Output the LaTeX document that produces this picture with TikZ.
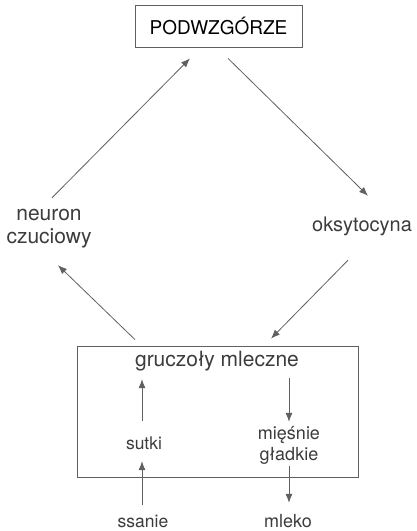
\documentclass[tikz,border=0pt]{standalone}
\usepackage{fontspec}
\setmainfont{TeX Gyre Heros}
\usetikzlibrary{arrows.meta}
\pgfdeclarelayer{bg}
\pgfsetlayers{bg,main}
\definecolor{ink}{HTML}{3C3C3C}
\definecolor{wire}{HTML}{606060}
\tikzset{
  lbl/.style={inner sep=0pt, text=ink, align=center},
  frame/.style={draw=wire, line width=0.8pt, inner sep=0pt},
  arr/.style={draw=wire, line width=0.8pt, -{Latex[length=9pt,width=7pt]}}
}

\begin{document}
\begin{tikzpicture}[x=1pt,y=-1pt]
        \useasboundingbox (0,0) rectangle (417,531);
        \node (pod) [frame, minimum width=167pt, minimum height=42pt, font=\fontsize{19}{22}\selectfont] at (218.5, 26) {PODWZGÓRZE};
        \node (neuron) [lbl, minimum width=70pt, minimum height=50pt, font=\fontsize{21}{23}\selectfont] at (49, 229) {neuron\\czuciowy};
        \node (oks) [lbl, minimum width=100pt, minimum height=24pt, font=\fontsize{20}{24}\selectfont] at (362, 226) {oksytocyna};
        \node (gland) [frame, minimum width=281pt, minimum height=131pt] at (217.5, 411.5) {};
        \node (gruc) [lbl, minimum width=162pt, minimum height=24pt, font=\fontsize{21}{24}\selectfont] at (217, 361) {gruczoły mleczne};
        \node (sutki) [lbl, minimum height=24pt, font=\fontsize{17.5}{20}\selectfont] at (144, 443) {sutki};
        \node (miesnie) [lbl, minimum height=46pt, font=\fontsize{18}{21}\selectfont] at (289, 445) {mięśnie\\gładkie};
        \node (ssanie) [lbl, minimum height=24pt, font=\fontsize{17.5}{20}\selectfont] at (143, 521) {ssanie};
        \node (mleko) [lbl, minimum height=24pt, font=\fontsize{18}{20}\selectfont] at (288, 521) {mleko};
        \begin{pgfonlayer}{bg}
                \draw ([xshift=3pt,yshift=6pt]neuron.north) edge [arr] ([xshift=-28.5pt,yshift=-11pt]pod.south);
                \draw ([xshift=9.5pt,yshift=-11pt]pod.south) edge [arr] ([xshift=6pt,yshift=18pt]oks.north);
                \draw ([xshift=-14pt,yshift=-22pt]oks.south) edge [arr] ([xshift=53.5pt,yshift=7pt]gland.north);
                \draw ([xshift=-82.5pt,yshift=6pt]gland.north) edge [arr] ([xshift=9pt,yshift=-11pt]neuron.south);
                \draw ([xshift=-2pt,yshift=10pt]sutki.north) edge [arr] ([xshift=-75pt,yshift=-6pt]gruc.south);
                \draw ([xshift=72pt,yshift=-5pt]gruc.south) edge [arr] (miesnie.north);
                \draw ([xshift=-1pt,yshift=4pt]ssanie.north) edge [arr] ([xshift=-2pt,yshift=-6pt]sutki.south);
                \draw ([yshift=2pt]miesnie.south) edge [arr] ([xshift=1pt,yshift=6pt]mleko.north);
        \end{pgfonlayer}
\end{tikzpicture}
\end{document}
